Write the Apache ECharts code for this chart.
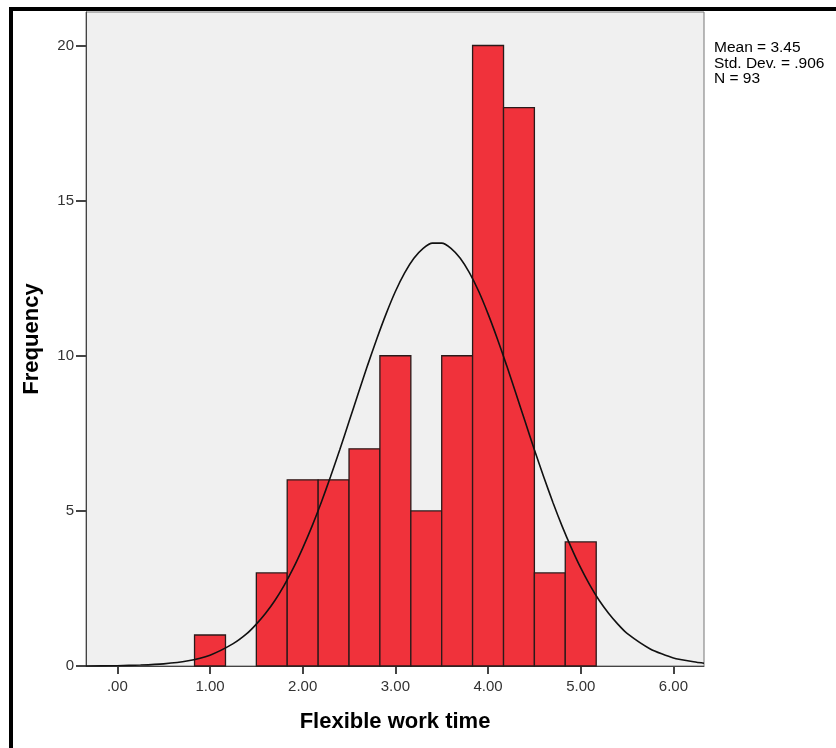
<!DOCTYPE html>
<html>
<head>
<meta charset="utf-8">
<script src="https://cdn.jsdelivr.net/npm/echarts@6/dist/echarts.min.js"></script>
<style>
    html, body { margin: 0; padding: 0; background: #fff; }
    #chart1 { width: 836px; height: 748px; }
</style>
</head>
<body>
<div id="chart1"></div>
<script>
// histogram bins (edges) and frequencies
var binEdges = [0.833, 1.167, 1.5, 1.833, 2.167, 2.5, 2.833, 3.167, 3.5, 3.833, 4.167, 4.5, 4.833, 5.167];
var binCounts = [1, 0, 3, 6, 6, 7, 10, 5, 10, 20, 18, 3, 4];
// normal curve
var curveX = [-0.34, 0, 0.25, 0.5, 0.75, 1, 1.25,
    1.4, 1.5, 1.6, 1.7, 1.8, 1.9, 2.0, 2.1, 2.2, 2.3, 2.4, 2.5, 2.6, 2.7, 2.8, 2.9,
    3.0, 3.1, 3.2, 3.3, 3.4, 3.5, 3.6, 3.7, 3.8, 3.9, 4.0, 4.1, 4.2, 4.3, 4.4, 4.5,
    4.6, 4.7, 4.8, 4.9, 5.0, 5.1, 5.2, 5.3, 5.4, 5.5,
    5.75, 6, 6.25, 6.33];
var curveY = [0, 0.01, 0.03, 0.07, 0.16, 0.35, 0.72,
    1.05, 1.35, 1.7, 2.11, 2.6, 3.16, 3.8, 4.5, 5.27, 6.1, 6.97, 7.88, 8.79, 9.69, 10.55, 11.35,
    12.07, 12.67, 13.14, 13.46, 13.63, 13.63, 13.46, 13.14, 12.67, 12.07, 11.35, 10.55, 9.69, 8.79, 7.88, 6.97,
    6.1, 5.27, 4.5, 3.8, 3.16, 2.6, 2.11, 1.7, 1.35, 1.05,
    0.55, 0.26, 0.12, 0.09];
var xTicks = [0, 1, 2, 3, 4, 5, 6];
var yTicks = [0, 5, 10, 15, 20];
var statLines = ['Mean = 3.45', 'Std. Dev. = .906', 'N = 93'];

chart1();

function chart1() {
    var myChart = echarts.init(document.getElementById('chart1'));
    var barData = [];
    binCounts.forEach(function (c, i) {
        if (c > 0) barData.push([binEdges[i], binEdges[i + 1], c]);
    });
    var lineData = curveX.map(function (x, i) { return [x, curveY[i]]; });

    var option = {
        animation: false,
        backgroundColor: '#fff',
        grid: {
            left: 86,
            top: 12,
            right: 132,
            bottom: 82,
            show: true,
            backgroundColor: '#f0f0f0',
            borderColor: '#777',
            borderWidth: 1
        },
        xAxis: {
            type: 'value',
            min: -0.338,
            max: 6.33,
            name: 'Flexible work time',
            nameLocation: 'middle',
            nameGap: 45,
            nameMoveOverlap: false,
            nameTextStyle: { fontFamily: 'Liberation Sans', fontWeight: 'bold', fontSize: 22, color: '#000' },
            splitLine: { show: false },
            axisLine: { onZero: false, lineStyle: { color: '#444', width: 1 } },
            axisTick: { customValues: xTicks, length: 8, lineStyle: { color: '#444', width: 2 } },
            axisLabel: {
                customValues: xTicks,
                margin: 13,
                fontFamily: 'Liberation Sans',
                fontSize: 15,
                color: '#333',
                formatter: function (v) {
                    return v === 0 ? '.00' : v.toFixed(2);
                }
            }
        },
        yAxis: {
            type: 'value',
            min: 0,
            max: 21.08,
            name: 'Frequency',
            nameLocation: 'middle',
            nameGap: 43,
            nameMoveOverlap: false,
            nameTextStyle: { fontFamily: 'Liberation Sans', fontWeight: 'bold', fontSize: 22, color: '#000' },
            splitLine: { show: false },
            axisLine: { show: true, onZero: false, lineStyle: { color: '#444', width: 1 } },
            axisTick: { show: true, customValues: yTicks, length: 10, lineStyle: { color: '#444', width: 2 } },
            axisLabel: {
                customValues: yTicks,
                margin: 12,
                fontFamily: 'Liberation Sans',
                fontSize: 15,
                color: '#333'
            }
        },
        graphic: [
            { type: 'rect', shape: { x: 9, y: 7, width: 827, height: 4 }, style: { fill: '#000' } },
            { type: 'rect', shape: { x: 9, y: 7, width: 4, height: 741 }, style: { fill: '#000' } },
            {
                type: 'text',
                left: 714,
                top: 40,
                style: {
                    text: statLines.join('\n'),
                    font: '15.5px "Liberation Sans"',
                    lineHeight: 15.5,
                    fill: '#000'
                }
            }
        ],
        series: [
            {
                type: 'custom',
                data: barData,
                encode: { x: [0, 1], y: 2 },
                renderItem: function (params, api) {
                    var p0 = api.coord([api.value(0), api.value(2)]);
                    var p1 = api.coord([api.value(1), 0]);
                    return {
                        type: 'rect',
                        shape: { x: p0[0], y: p0[1], width: p1[0] - p0[0], height: p1[1] - p0[1] },
                        style: { fill: '#f0323b', stroke: '#2a1a1a', lineWidth: 1.3 }
                    };
                },
                z: 2
            },
            {
                type: 'line',
                data: lineData,
                smooth: 0.2,
                symbol: 'none',
                lineStyle: { color: '#111', width: 1.6 },
                z: 3
            }
        ]
    };
    myChart.setOption(option);
}
</script>
</body>
</html>
